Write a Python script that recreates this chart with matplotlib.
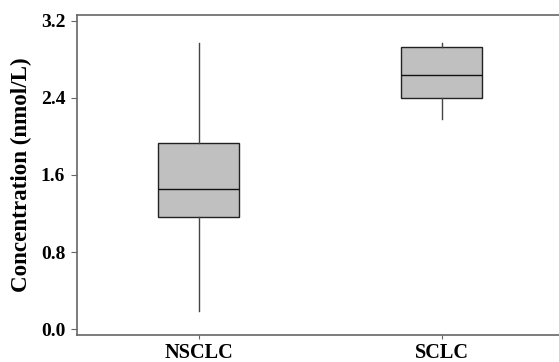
import matplotlib
matplotlib.use("Agg")
import matplotlib.pyplot as plt

categories = ["NSCLC", "SCLC"]
whisker_low = [0.19, 2.18]
q1 = [1.165, 2.40]
median = [1.45, 2.635]
q3 = [1.935, 2.925]
whisker_high = [2.975, 2.975]
yticks = [0.0, 0.8, 1.6, 2.4, 3.2]

plt.rcParams['font.family'] = ['Liberation Serif', 'DejaVu Serif']
plt.rcParams['font.weight'] = 'bold'

fig = plt.figure(figsize=(5.59, 3.62), dpi=100)
ax = fig.add_axes([77/559, 1-335/362, (563.4-77)/559, (335-15)/362])

stats = []
for i, c in enumerate(categories):
    stats.append(dict(label=c, whislo=whisker_low[i], q1=q1[i], med=median[i],
                      q3=q3[i], whishi=whisker_high[i], fliers=[]))
bp = ax.bxp(stats, positions=[1, 2], widths=0.333, patch_artist=True, showcaps=False,
            boxprops=dict(facecolor='#c0c0c0', edgecolor='#222222', linewidth=1.0),
            medianprops=dict(color='#111111', linewidth=1.0),
            whiskerprops=dict(color='#444444', linewidth=1.0))

ax.set_xlim(0.5, 2.5)
ax.set_ylim(-0.062, 3.262)
ax.set_yticks(yticks)
ax.set_yticklabels([f"{v:.1f}" for v in yticks])
ax.set_xticks([1, 2])
ax.set_xticklabels(categories)
for s in ax.spines.values():
    s.set_color('#666666')
    s.set_linewidth(1.2)
ax.tick_params(axis='y', direction='out', length=4.5, color='#666666', labelsize=14, pad=4)
ax.tick_params(axis='x', direction='out', length=3, color='#666666', labelsize=14.6, pad=3)
ax.set_ylabel("Concentration (nmol/L)", fontsize=16.6, fontweight='bold', labelpad=6)

fig.savefig("out.png", dpi=100)
